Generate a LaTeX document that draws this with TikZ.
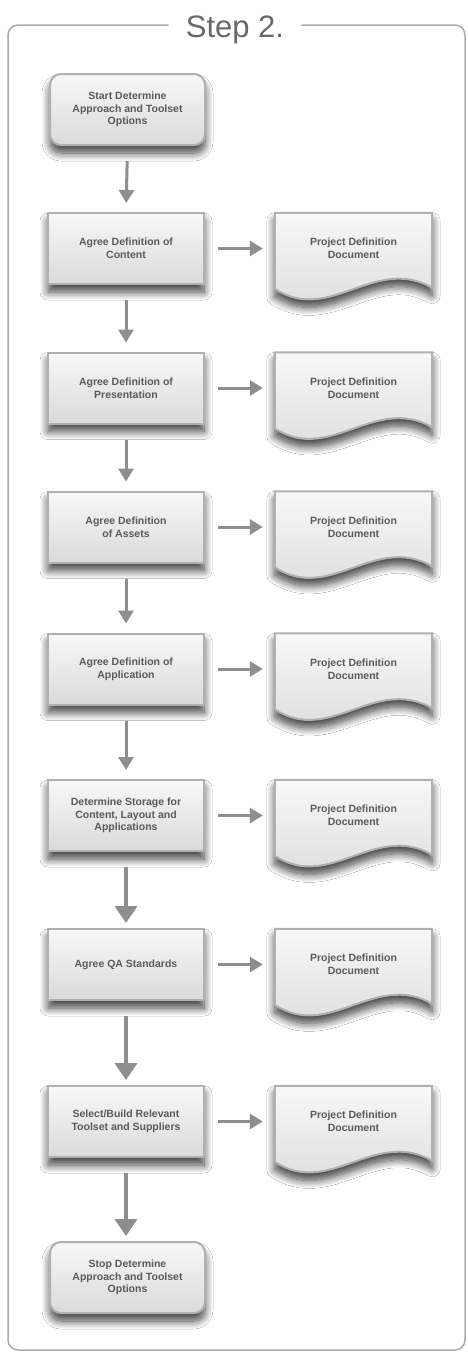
\documentclass[tikz,border=0pt]{standalone}
\usepackage{fontspec}
\setmainfont{Liberation Sans}
\usetikzlibrary{arrows.meta,shadows.blur,calc,backgrounds}
\definecolor{txt}{HTML}{5A5A5A}
\definecolor{edge}{HTML}{B0B0B0}
\definecolor{arr}{HTML}{8E8E8E}
\definecolor{framec}{HTML}{ABABAB}
\definecolor{topc}{HTML}{F8F8F8}
\definecolor{botc}{HTML}{DADADA}
\definecolor{ttlc}{HTML}{686868}
\tikzset{
  boxfont/.style={font=\bfseries\fontsize{10.5}{12.7}\selectfont, text=txt, align=center},
  shad/.style={blur shadow={shadow xshift=0pt, shadow yshift=-8pt, shadow blur radius=8pt, shadow opacity=75, shadow blur steps=12}},
  proc/.style={rectangle, minimum width=156pt, minimum height=71pt, inner sep=0pt,
    draw=edge, line width=2pt, top color=topc, bottom color=botc, shad, boxfont},
  term/.style={proc, rounded corners=11pt, minimum width=155pt},
  docn/.style={rectangle, minimum width=157pt, minimum height=71pt, inner sep=0pt, boxfont},
  docshape/.style={draw=edge, line width=2pt, top color=topc, bottom color=botc, shad},
  thinarrow/.style={draw=arr, line width=3pt, -{Triangle[length=13pt,width=15pt]}},
  thickarrow/.style={draw=arr, line width=4pt, -{Triangle[length=17pt,width=22pt]}},
  vthin/.style={thinarrow, shorten <=15pt, shorten >=9pt},
  vthick/.style={thickarrow, shorten <=15pt, shorten >=5pt},
  harrow/.style={thinarrow, shorten <=13pt, shorten >=12pt},
  framestyle/.style={draw=framec, line width=1.5pt, rounded corners=10pt},
}
\newcommand{\docoutline}[1]{%
  \path[docshape] (#1.north west) -- ($(#1.north west)+(0,76)$)
    .. controls ($(#1.north west)+(55,112)$) and ($(#1.north west)+(100,42)$) ..
    ($(#1.north east)+(0,75)$) -- (#1.north east) -- cycle;}
\begin{document}
\begin{tikzpicture}[x=1pt,y=-1pt]
\useasboundingbox (0,0) rectangle (467,1353);
% title and frame
\node[font=\fontsize{31}{31}\selectfont, text=ttlc, inner xsep=17pt, inner ysep=0pt, anchor=base] (ttl) at (235,37) {Step 2.};
\coordinate (fr) at (0,25);
\draw[framestyle] (ttl.west |- fr) -- (8,25) -- (8,1350) -- (465,1350) -- (465,25) -- (ttl.east |- fr);
% left column
\node[term] (start) at (127.5,109.5) {Start Determine\\Approach and Toolset\\Options};
\node[proc] (p1) at (126,248.5) {Agree Definition of\\Content};
\node[proc] (p2) at (126,388) {Agree Definition of\\Presentation};
\node[proc] (p3) at (126,527) {Agree Definition\\of Assets};
\node[proc] (p4) at (126,669) {Agree Definition of\\Application};
\node[proc] (p5) at (126,815.5) {Determine Storage for\\Content, Layout and\\Applications};
\node[proc] (p6) at (126,964.5) {Agree QA Standards};
\node[proc] (p7) at (126,1121.5) {Select/Build Relevant\\Toolset and Suppliers};
\node[term] (stop) at (127.5,1277.5) {Stop Determine\\Approach and Toolset\\Options};
% documents
\node[docn] (d1) at (353.5,248.5) {Project Definition\\Document};
\node[docn] (d2) at (353.5,388) {Project Definition\\Document};
\node[docn] (d3) at (353.5,527) {Project Definition\\Document};
\node[docn] (d4) at (353.5,669) {Project Definition\\Document};
\node[docn] (d5) at (353.5,815.5) {Project Definition\\Document};
\node[docn] (d6) at (353.5,964.5) {Project Definition\\Document};
\node[docn] (d7) at (353.5,1121.5) {Project Definition\\Document};
\begin{scope}[on background layer]
\fill[white] (0,0) rectangle (467,1353);
\foreach \d in {d1,d2,d3,d4,d5,d6,d7} {\docoutline{\d}}
\end{scope}
% vertical connectors
\draw[vthin] (start.south) -- (p1.north);
\draw[vthin] (p1.south) -- (p2.north);
\draw[vthin] (p2.south) -- (p3.north);
\draw[vthin] (p3.south) -- (p4.north);
\draw[vthin] (p4.south) -- (p5.north);
\draw[vthick] (p5.south) -- (p6.north);
\draw[vthick] (p6.south) -- (p7.north);
\draw[vthick] (p7.south) -- (stop.north -| p7.south);
% horizontal connectors
\foreach \i in {1,...,7} {\draw[harrow] (p\i.east) -- (d\i.west);}
\end{tikzpicture}
\end{document}
